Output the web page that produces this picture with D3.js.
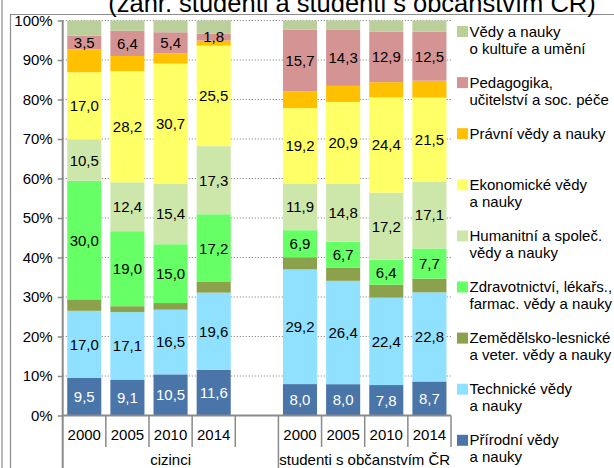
<!DOCTYPE html>
<html>
<head>
<meta charset="utf-8">
<script src="https://cdn.jsdelivr.net/npm/d3@7"></script>
<style>
  html, body { margin: 0; padding: 0; background: #fff; }
  svg { display: block; font-family: "Liberation Sans", Arial, sans-serif; }
</style>
</head>
<body>
<svg id="chart" width="614" height="468"></svg>
<script>
// ---- data ----
const groups = ["cizinci", "studenti s občanstvím ČR"];
const groupYears = [["2000", "2005", "2010", "2014", ""], ["2000", "2005", "2010", "2014"]];
const yTicks = [0, 10, 20, 30, 40, 50, 60, 70, 80, 90, 100];

// series values, bar order: cizinci 2000..2014, studenti 2000..2014
const prirodni      = [9.5, 9.1, 10.5, 11.6, 8.0, 8.0, 7.8, 8.7];
const technicke     = [17.0, 17.1, 16.5, 19.6, 29.2, 26.4, 22.4, 22.8];
const zemedelske    = [2.9, 1.5, 1.7, 2.7, 3.1, 3.3, 3.3, 3.5];
const zdravotnictvi = [30.0, 19.0, 15.0, 17.2, 6.9, 6.7, 6.4, 7.7];
const humanitni     = [10.5, 12.4, 15.4, 17.3, 11.9, 14.8, 17.2, 17.1];
const ekonomicke    = [17.0, 28.2, 30.7, 25.5, 19.2, 20.9, 24.4, 21.5];
const pravni        = [5.8, 3.8, 2.6, 1.3, 4.3, 4.1, 3.9, 4.3];
const pedagogika    = [3.5, 6.4, 5.4, 1.8, 15.7, 14.3, 12.9, 12.5];
const kultura       = [3.8, 2.6, 3.0, 3.3, 2.3, 2.4, 2.9, 2.9];

const seriesKeys = ["prirodni", "technicke", "zemedelske", "zdravotnictvi", "humanitni", "ekonomicke", "pravni", "pedagogika", "kultura"];
const seriesValues = { prirodni, technicke, zemedelske, zdravotnictvi, humanitni, ekonomicke, pravni, pedagogika, kultura };
const seriesNames = {
  kultura: ["Vědy a nauky", "o kultuře a umění"],
  pedagogika: ["Pedagogika,", "učitelství a soc. péče"],
  pravni: ["Právní vědy a nauky"],
  ekonomicke: ["Ekonomické vědy", "a nauky"],
  humanitni: ["Humanitní a společ.", "vědy a nauky"],
  zdravotnictvi: ["Zdravotnictví, lékařs.,", "farmac. vědy a nauky"],
  zemedelske: ["Zemědělsko-lesnické", "a veter. vědy a nauky"],
  technicke: ["Technické vědy", "a nauky"],
  prirodni: ["Přírodní vědy", "a nauky"]
};
const colors = {
  prirodni: "#4a75a9", technicke: "#8fe1ff", zemedelske: "#8ca14c", zdravotnictvi: "#66ff66",
  humanitni: "#cde7ab", ekonomicke: "#ffff66", pravni: "#ffc000", pedagogika: "#d59494", kultura: "#bacf99"
};
const labelled = { prirodni: "#fff", technicke: "#000", zdravotnictvi: "#000", humanitni: "#000", ekonomicke: "#000", pedagogika: "#000" };

// ---- build table ----
const slots = [];
groups.forEach((g, gi) => groupYears[gi].forEach((y, yi) => slots.push({ id: g + "|" + y + "|" + yi, group: g, year: y, gi })));
const barSlots = slots.filter(s => s.year !== "");
const table = barSlots.map((s, i) => {
  const row = { slot: s.id };
  seriesKeys.forEach(k => row[k] = seriesValues[k][i]);
  return row;
});
const stacked = d3.stack().keys(seriesKeys).offset(d3.stackOffsetExpand)(table);

// ---- layout ----
const svg = d3.select("#chart");
const x0 = 62.7, x1 = 451, yBottom = 415.5, yTop = 20.5;
const x = d3.scaleBand().domain(slots.map(s => s.id)).range([x0, x1]).paddingInner(0.21).paddingOuter(0.105);
const y = d3.scaleLinear().domain([0, 1]).range([yBottom, yTop]);

// frame
svg.append("line").attr("x1", 2).attr("x2", 2).attr("y1", 0).attr("y2", 468).attr("stroke", "#8c8c8c").attr("stroke-width", 1.2);
svg.append("path").attr("d", "M10.5,468 V14.5 H614").attr("fill", "none").attr("stroke", "#8c8c8c").attr("stroke-width", 1.2);

// title (partly cut, as in the reference)
svg.append("text").attr("x", 352).attr("y", 11.5).attr("text-anchor", "middle")
  .attr("font-size", 25.5).attr("fill", "#000").text("(zahr. studenti a studenti s občanstvím ČR)");

// gridlines
svg.append("g").selectAll("line").data(yTicks.filter(t => t > 0)).join("line")
  .attr("x1", x0).attr("x2", x1).attr("y1", d => y(d / 100)).attr("y2", d => y(d / 100))
  .attr("stroke", "#8a8a8a").attr("stroke-width", 1.2).attr("stroke-dasharray", "1.2,1.8");

// bars
const layer = svg.append("g").selectAll("g").data(stacked).join("g").attr("fill", d => colors[d.key]);
layer.selectAll("rect").data(d => d).join("rect")
  .attr("x", d => x(d.data.slot)).attr("width", x.bandwidth())
  .attr("y", d => y(d[1])).attr("height", d => y(d[0]) - y(d[1]));

// data labels
const lab = svg.append("g").attr("font-size", 15).attr("text-anchor", "middle");
stacked.filter(s => labelled[s.key]).forEach(s => {
  lab.append("g").attr("fill", labelled[s.key]).selectAll("text").data(s).join("text")
    .attr("x", d => x(d.data.slot) + x.bandwidth() / 2)
    .attr("y", d => (y(d[0]) + y(d[1])) / 2)
    .attr("dy", "0.36em")
    .text(d => d.data[s.key].toFixed(1).replace(".", ","));
});

// y axis
const yAxis = d3.axisLeft(y).tickValues(yTicks.map(t => t / 100)).tickFormat(d => Math.round(d * 100) + "%").tickSize(5).tickPadding(5);
const ya = svg.append("g").attr("transform", `translate(${x0},0)`).call(yAxis);
ya.select(".domain").remove();
ya.selectAll(".tick line").attr("stroke", "#8a8a8a").attr("stroke-width", 1.5);
ya.selectAll(".tick text").attr("font-size", 15).attr("fill", "#000").attr("font-family", "Liberation Sans, Arial, sans-serif");
svg.append("line").attr("x1", x0).attr("x2", x0).attr("y1", yTop).attr("y2", 468).attr("stroke", "#8a8a8a").attr("stroke-width", 2);

// x axis (multi-level)
svg.append("line").attr("x1", x0).attr("x2", x1).attr("y1", yBottom).attr("y2", yBottom).attr("stroke", "#8a8a8a").attr("stroke-width", 2);
const step = x.step();
const slotLeft = s => x(s.id) - x.paddingInner() * step / 2;
const dividers = slots.slice(1).map((s, i) => ({ pos: slotLeft(s), long: s.gi !== slots[i].gi }));
dividers.push({ pos: x1, long: false });
svg.append("g").selectAll("line").data(dividers).join("line")
  .attr("x1", d => d.pos).attr("x2", d => d.pos).attr("y1", yBottom).attr("y2", d => d.long ? 468 : 447)
  .attr("stroke", "#8a8a8a").attr("stroke-width", 1.5);
svg.append("g").attr("font-size", 15).attr("text-anchor", "middle").selectAll("text").data(barSlots).join("text")
  .attr("x", d => x(d.id) + x.bandwidth() / 2).attr("y", 440).text(d => d.year);
svg.append("g").attr("font-size", 15).attr("text-anchor", "middle").selectAll("text").data(groups).join("text")
  .attr("x", (g, gi) => {
    const ss = slots.filter(s => s.gi === gi);
    const a = gi === 0 ? x0 : slotLeft(ss[0]);
    const b = gi === groups.length - 1 ? x1 : slotLeft(slots[slots.indexOf(ss[ss.length - 1]) + 1]);
    return (a + b) / 2;
  })
  .attr("y", 464.5).text(d => d);

// legend
const legendOrder = seriesKeys.slice().reverse();
const lg = svg.append("g").attr("font-size", 15);
legendOrder.forEach((k, i) => {
  const base = 36.5 + i * 51.1;
  lg.append("rect").attr("x", 457).attr("y", base - 10.5).attr("width", 11).attr("height", 11).attr("fill", colors[k]);
  seriesNames[k].forEach((line, li) => {
    lg.append("text").attr("x", 469.5).attr("y", base + li * 17).text(line);
  });
});
</script>
</body>
</html>
